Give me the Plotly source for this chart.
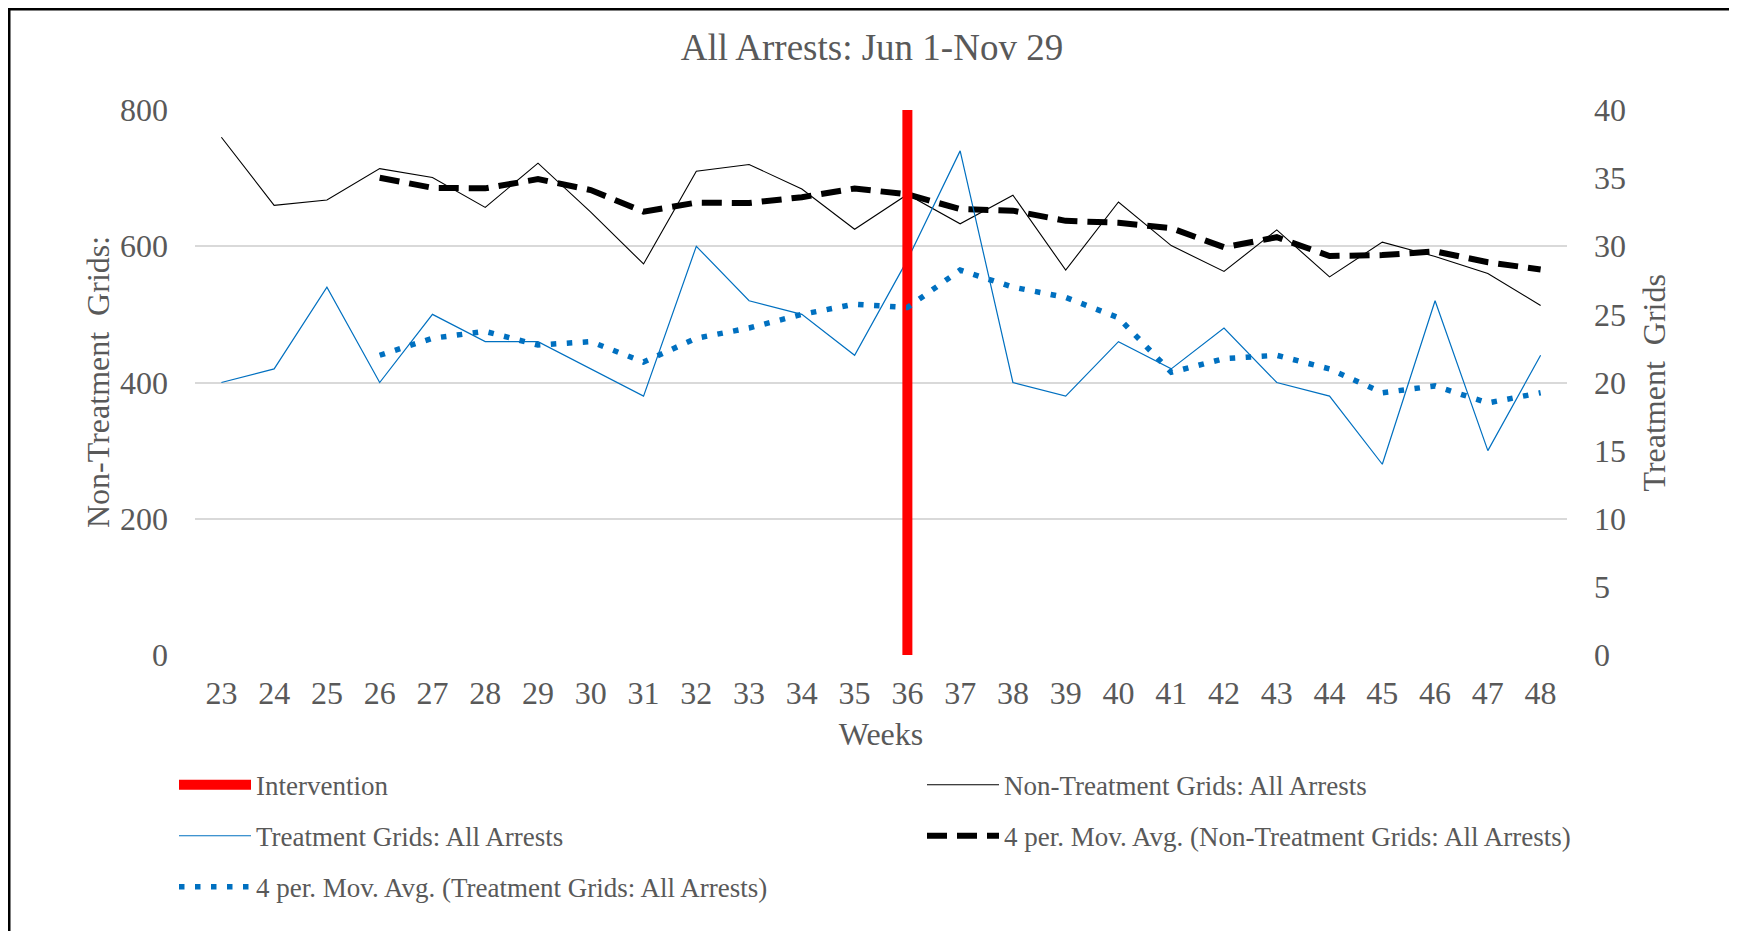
import plotly.graph_objects as go

weeks = list(range(23, 49))
non_treatment = [760, 660, 668, 714, 701, 657, 722, 650, 574, 710, 720, 684, 625,
                 676, 633, 675, 565, 665, 601, 563, 624, 555, 606, 585, 560, 513]
treatment = [20, 21, 27, 20, 25, 23, 23, 21, 19, 30, 26, 25, 22,
             29, 37, 20, 19, 23, 21, 24, 20, 19, 14, 26, 15, 22]
intervention_week = 36
left_range = [0, 800]
right_range = [0, 40]

FONT = "Liberation Serif"
GREY = "#595959"
BLUE = "#0070C0"

# plot area in pixels (figure is 1737 x 931)
L, R, T, B = 187, 1559, 102, 647.3
PW, PH = R - L, B - T


def moving_avg(vals, n=4):
    return [None] * (n - 1) + [sum(vals[i - n + 1:i + 1]) / n for i in range(n - 1, len(vals))]


ma_non = moving_avg(non_treatment)
ma_trt = moving_avg(treatment)

fig = go.Figure()

fig.add_trace(go.Scatter(
    x=weeks, y=non_treatment, mode="lines", line=dict(color="black", width=1.1),
    name="Non-Treatment Grids: All Arrests", legend="legend2"))
fig.add_trace(go.Scatter(
    x=weeks, y=ma_non, mode="lines", line=dict(color="black", width=6, dash="20px,10px"),
    name="4 per. Mov. Avg. (Non-Treatment Grids: All Arrests)", legend="legend4"))
fig.add_trace(go.Scatter(
    x=weeks, y=treatment, mode="lines", line=dict(color=BLUE, width=1.2),
    name="Treatment Grids: All Arrests", yaxis="y2", legend="legend3"))
# intervention bar spans the full axis height
fig.add_trace(go.Scatter(
    x=[intervention_week, intervention_week], y=right_range, mode="lines", yaxis="y2",
    line=dict(color="#FF0000", width=10), name="Intervention", legend="legend"))
fig.add_trace(go.Scatter(
    x=weeks, y=ma_trt, mode="lines", line=dict(color=BLUE, width=5.5, dash="5.5px,10.5px"),
    name="4 per. Mov. Avg. (Treatment Grids: All Arrests)", yaxis="y2", legend="legend5"))

tick_font = dict(family=FONT, size=32, color=GREY)


def leg(px, py):
    return dict(x=(px - L) / PW, y=(B - py) / PH, xref="paper", yref="paper",
                xanchor="left", yanchor="middle", orientation="h",
                font=dict(family=FONT, size=27, color=GREY), itemwidth=72,
                bgcolor="rgba(0,0,0,0)", borderwidth=0)


def side_title(text, px):
    return dict(text=text, x=(px - L) / PW, y=0.5, xref="paper", yref="paper",
                xanchor="center", yanchor="middle", textangle=-90, showarrow=False,
                font=tick_font)


fig.update_layout(
    width=1737, height=931,
    margin=dict(l=L, r=1737 - R, t=T, b=931 - B),
    paper_bgcolor="white", plot_bgcolor="white",
    title=dict(text="All Arrests: Jun 1-Nov 29", x=864 / 1737, xref="container", xanchor="center",
               y=1 - 39 / 931, yanchor="middle", font=dict(family=FONT, size=37, color=GREY)),
    xaxis=dict(range=[22.5, 48.5], tickmode="linear", tick0=23, dtick=1, showgrid=False,
               zeroline=False, showline=False, tickfont=tick_font, ticklabelstandoff=16,
               title=dict(text="Weeks", font=tick_font, standoff=12)),
    yaxis=dict(range=left_range, dtick=200, gridcolor="#D9D9D9", gridwidth=1.5, zeroline=False,
               showline=False, tickfont=tick_font, ticklabelstandoff=26),
    yaxis2=dict(range=right_range, dtick=5, overlaying="y", side="right", showgrid=False,
                zeroline=False, showline=False, tickfont=tick_font, ticklabelstandoff=26),
    annotations=[side_title("Non-Treatment  Grids:", 89.5),
                 side_title("Treatment  Grids", 1645)],
    legend=leg(166, 777.6),
    legend2=leg(914, 777.6),
    legend3=leg(166, 828.6),
    legend4=leg(914, 828.6),
    legend5=leg(166, 879.6),
    showlegend=True,
    shapes=[dict(type="rect", xref="paper", yref="paper",
                 x0=(1.25 - L) / PW, x1=(1722.7 - L) / PW,
                 y0=-0.6, y1=(B - 1.25) / PH,
                 line=dict(color="black", width=2.5), fillcolor="rgba(0,0,0,0)", layer="below")],
)

fig.write_html("out.html")
